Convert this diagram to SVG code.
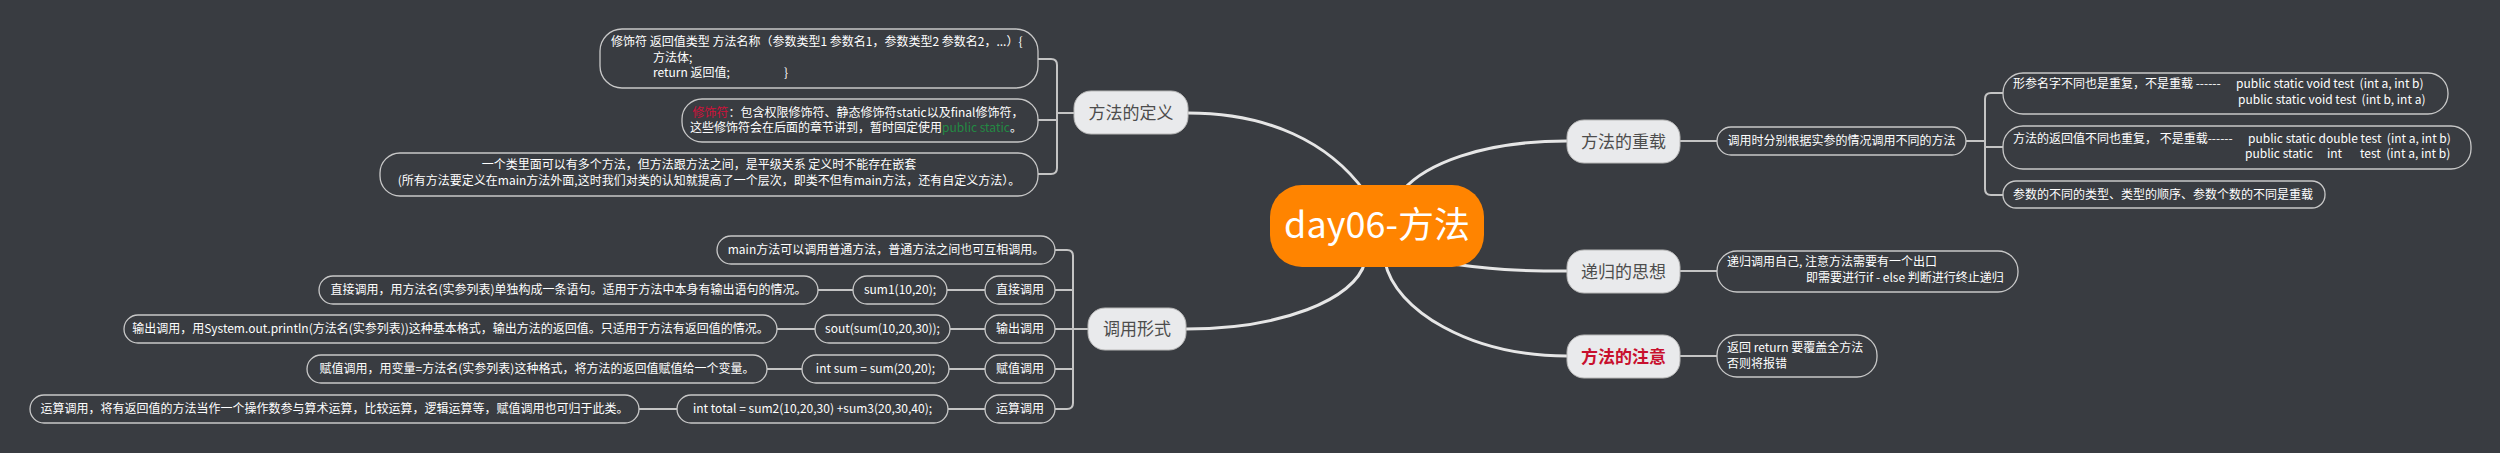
<svg xmlns="http://www.w3.org/2000/svg" width="2500" height="453" viewBox="0 0 2500 453">
<style>
text{font-family:"Noto Sans CJK SC","Microsoft YaHei","Noto Sans",sans-serif;}
.bg{fill:#393c41;}
.main{fill:none;stroke:#e6e6e6;stroke-width:3;}
.br{fill:none;stroke:#c4c4c4;stroke-width:2;}
.leaf{fill:#393c41;stroke:#c8c8c8;stroke-width:1.3;}
.pri{fill:#e9eaec;stroke:#b8b8b8;stroke-width:1;}
.pt{font-size:17px;fill:#4d4d4d;text-anchor:middle;}
.lt{font-size:12px;fill:#ffffff;}
.c{text-anchor:middle;}
.red{fill:#d0103a;}
.grn{fill:#238a43;}
</style>
<rect class="bg" x="0" y="0" width="2500" height="453"/>

<g id="connectors">
<path class="main" d="M1188,113 C1268,113 1329,142 1365,192"/>
<path class="main" d="M1403,190 C1425,165 1480,141 1567,141"/>
<path class="main" d="M1440,262 C1490,270 1520,271 1567,271"/>
<path class="main" d="M1385,262 C1395,310 1470,356 1567,356"/>
<path class="main" d="M1365,262 C1355,300 1280,329 1186,329"/>
<path class="br" d="M1074,113 H1057"/>
<path class="br" d="M1038,59 H1051 Q1057,59 1057,65 V168 Q1057,174 1051,174 H1038"/>
<path class="br" d="M1038,120 H1057"/>
<path class="br" d="M1088,329 H1073"/>
<path class="br" d="M1055,250 H1067 Q1073,250 1073,256 V403 Q1073,409 1067,409 H1055"/>
<path class="br" d="M1055,290 H1073 M1055,329 H1073 M1055,369 H1073"/>
<path class="br" d="M818,290 H853 M947,290 H985"/>
<path class="br" d="M777,329 H815 M950,329 H985"/>
<path class="br" d="M767,369 H802 M949,369 H985"/>
<path class="br" d="M639,409 H677 M948,409 H985"/>
<path class="br" d="M1680,141 H1717"/>
<path class="br" d="M1966,141 H1985"/>
<path class="br" d="M2003,93 H1991 Q1985,93 1985,99 V189 Q1985,195 1991,195 H2003"/>
<path class="br" d="M1985,147 H2003"/>
<path class="br" d="M1680,271 H1717"/>
<path class="br" d="M1680,356 H1717"/>
</g>

<g id="root">
<rect x="1270" y="185" width="214" height="82" rx="32" fill="#ff8400"/>
<text x="1377" y="238" font-size="36" fill="#ffffff" text-anchor="middle">day06-方法</text>
</g>

<g id="n-define">
<rect class="pri" x="1074" y="91" width="114" height="43" rx="17"/>
<text class="pt" x="1131" y="119">方法的定义</text>
</g>
<g id="n-overload">
<rect class="pri" x="1567" y="120" width="113" height="43" rx="17"/>
<text class="pt" x="1623.5" y="148">方法的重载</text>
</g>
<g id="n-recursion">
<rect class="pri" x="1567" y="250" width="113" height="43" rx="17"/>
<text class="pt" x="1623.5" y="278">递归的思想</text>
</g>
<g id="n-notice">
<rect class="pri" x="1567" y="335" width="113" height="43" rx="17"/>
<text class="pt" x="1623.5" y="363" font-weight="bold" fill="#c8102e" style="fill:#c8102e">方法的注意</text>
</g>
<g id="n-call">
<rect class="pri" x="1088" y="308" width="98" height="42" rx="17"/>
<text class="pt" x="1137" y="335">调用形式</text>
</g>

<g id="d-syntax">
<rect class="leaf" x="600" y="29" width="438" height="59" rx="22"/>
<text class="lt" x="611" y="46">修饰符 返回值类型 方法名称（参数类型1 参数名1，参数类型2 参数名2，...）{</text>
<text class="lt" x="653" y="62">方法体;</text>
<text class="lt" x="653" y="77">return 返回值;</text>
<text class="lt" x="784" y="77">}</text>
</g>
<g id="d-modifier">
<rect class="leaf" x="682" y="99" width="356" height="43" rx="20"/>
<text class="lt c" x="858" y="117"><tspan class="red">修饰符</tspan>：包含权限修饰符、静态修饰符static以及final修饰符，</text>
<text class="lt c" x="856" y="132">这些修饰符会在后面的章节讲到，暂时固定使用<tspan class="grn">public static</tspan>。</text>
</g>
<g id="d-nested">
<rect class="leaf" x="380" y="153" width="658" height="43" rx="20"/>
<text class="lt c" x="699" y="169">一个类里面可以有多个方法，但方法跟方法之间，是平级关系 定义时不能存在嵌套</text>
<text class="lt c" x="709" y="185">(所有方法要定义在main方法外面,这时我们对类的认知就提高了一个层次，即类不但有main方法，还有自定义方法）。</text>
</g>

<g id="o-rule">
<rect class="leaf" x="1717" y="127" width="249" height="28" rx="14"/>
<text class="lt c" x="1841.5" y="145">调用时分别根据实参的情况调用不同的方法</text>
</g>
<g id="o-1">
<rect class="leaf" x="2003" y="73" width="445" height="41" rx="20"/>
<text class="lt" x="2013" y="88" xml:space="preserve">形参名字不同也是重复，不是重载 ------  <tspan x="2236">public static void test  (int a, int b)</tspan></text>
<text class="lt" x="2238" y="104" xml:space="preserve">public static void test  (int b, int a)</text>
</g>
<g id="o-2">
<rect class="leaf" x="2003" y="126" width="468" height="43" rx="20"/>
<text class="lt" x="2013" y="143" xml:space="preserve">方法的返回值不同也重复， 不是重载------  <tspan x="2248">public static double test  (int a, int b)</tspan></text>
<text class="lt" x="2245" y="158" xml:space="preserve">public static<tspan x="2327">int</tspan><tspan x="2360">test  (int a, int b)</tspan></text>
</g>
<g id="o-3">
<rect class="leaf" x="2003" y="181" width="322" height="27" rx="13"/>
<text class="lt" x="2013" y="199">参数的不同的类型、类型的顺序、参数个数的不同是重载</text>
</g>

<g id="r-1">
<rect class="leaf" x="1717" y="251" width="301" height="41" rx="20"/>
<text class="lt" x="1727" y="266">递归调用自己, 注意方法需要有一个出口</text>
<text class="lt" x="1806" y="282">即需要进行if - else 判断进行终止递归</text>
</g>
<g id="w-1">
<rect class="leaf" x="1717" y="335" width="160" height="42" rx="20"/>
<text class="lt" x="1727" y="352">返回 return 要覆盖全方法</text>
<text class="lt" x="1727" y="368">否则将报错</text>
</g>

<g id="c-main">
<rect class="leaf" x="717" y="236" width="338" height="28" rx="14"/>
<text class="lt c" x="886" y="254">main方法可以调用普通方法，普通方法之间也可互相调用。</text>
</g>
<g id="c-direct">
<rect class="leaf" x="985" y="276" width="70" height="28" rx="14"/>
<text class="lt c" x="1020" y="294">直接调用</text>
</g>
<g id="c-direct-ex">
<rect class="leaf" x="853" y="276" width="94" height="28" rx="14"/>
<text class="lt c" x="900" y="294">sum1(10,20);</text>
</g>
<g id="c-direct-desc">
<rect class="leaf" x="319" y="276" width="499" height="28" rx="14"/>
<text class="lt c" x="568.5" y="294">直接调用，用方法名(实参列表)单独构成一条语句。适用于方法中本身有输出语句的情况。</text>
</g>
<g id="c-print">
<rect class="leaf" x="985" y="315" width="70" height="28" rx="14"/>
<text class="lt c" x="1020" y="333">输出调用</text>
</g>
<g id="c-print-ex">
<rect class="leaf" x="815" y="315" width="135" height="28" rx="14"/>
<text class="lt c" x="882.5" y="333">sout(sum(10,20,30));</text>
</g>
<g id="c-print-desc">
<rect class="leaf" x="124" y="315" width="653" height="28" rx="14"/>
<text class="lt c" x="450.5" y="333">输出调用，用System.out.println(方法名(实参列表))这种基本格式，输出方法的返回值。只适用于方法有返回值的情况。</text>
</g>
<g id="c-assign">
<rect class="leaf" x="985" y="355" width="70" height="28" rx="14"/>
<text class="lt c" x="1020" y="373">赋值调用</text>
</g>
<g id="c-assign-ex">
<rect class="leaf" x="802" y="355" width="147" height="28" rx="14"/>
<text class="lt c" x="875.5" y="373">int sum = sum(20,20);</text>
</g>
<g id="c-assign-desc">
<rect class="leaf" x="307" y="355" width="460" height="28" rx="14"/>
<text class="lt c" x="537" y="373">赋值调用，用变量=方法名(实参列表)这种格式，将方法的返回值赋值给一个变量。</text>
</g>
<g id="c-calc">
<rect class="leaf" x="985" y="395" width="70" height="28" rx="14"/>
<text class="lt c" x="1020" y="413">运算调用</text>
</g>
<g id="c-calc-ex">
<rect class="leaf" x="677" y="395" width="271" height="28" rx="14"/>
<text class="lt c" x="812.5" y="413">int total = sum2(10,20,30) +sum3(20,30,40);</text>
</g>
<g id="c-calc-desc">
<rect class="leaf" x="30" y="395" width="609" height="28" rx="14"/>
<text class="lt c" x="334.5" y="413">运算调用，将有返回值的方法当作一个操作数参与算术运算，比较运算，逻辑运算等，赋值调用也可归于此类。</text>
</g>
</svg>
